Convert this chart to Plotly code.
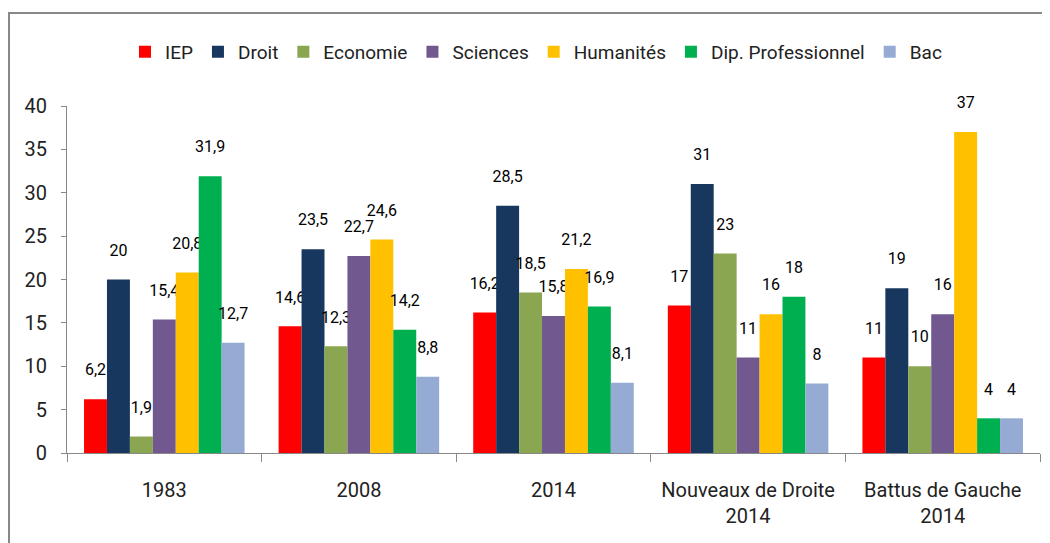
import plotly.graph_objects as go

CATEGORIES = ["1983", "2008", "2014", "Nouveaux de Droite<br>2014", "Battus de Gauche<br>2014"]
SERIES = ["IEP", "Droit", "Economie", "Sciences", "Humanités", "Dip. Professionnel", "Bac"]
IEP = [6.2, 14.6, 16.2, 17, 11]
DROIT = [20, 23.5, 28.5, 31, 19]
ECONOMIE = [1.9, 12.3, 18.5, 23, 10]
SCIENCES = [15.4, 22.7, 15.8, 11, 16]
HUMANITES = [20.8, 24.6, 21.2, 16, 37]
DIP_PRO = [31.9, 14.2, 16.9, 18, 4]
BAC = [12.7, 8.8, 8.1, 8, 4]

COLORS = ["#FF0000", "#17375E", "#8BA650", "#71588F", "#FFC000", "#00B050", "#95ABD3"]
FONT = "Roboto, sans-serif"


def fmt(v):
	# comma decimals, plus a tiny blank line to lift the label off the bar
	s = f"{v:g}".replace(".", ",")
	return s + "<br><span style='font-size:2px'> </span>"


fig = go.Figure()
for name, values, color in zip(SERIES, [IEP, DROIT, ECONOMIE, SCIENCES, HUMANITES, DIP_PRO, BAC], COLORS):
	fig.add_trace(
		go.Bar(
			x=CATEGORIES,
			y=values,
			name=name,
			marker={"color": color, "line": {"width": 0}},
			text=[fmt(v) for v in values],
			textposition="outside",
			constraintext="none",
			cliponaxis=False,
			textfont={"family": FONT, "size": 16, "color": "#000000"},
		)
	)

fig.update_layout(
	width=1042,
	height=535,
	barmode="group",
	bargap=0.175,
	bargroupgap=0,
	paper_bgcolor="white",
	plot_bgcolor="white",
	margin={"l": 59, "r": 10, "t": 98, "b": 90},
	font={"family": FONT, "size": 19, "color": "#222222"},
	legend={
		"orientation": "h",
		"x": 0.482,
		"xanchor": "center",
		"y": 1.156,
		"yanchor": "middle",
		"font": {"size": 19},
		"itemwidth": 30,
		"traceorder": "normal",
	},
	shapes=[
		{
			"type": "rect",
			"xref": "paper",
			"yref": "paper",
			"x0": -0.0596,
			"x1": 1.05,
			"y0": -0.4,
			"y1": 1.268,
			"line": {"color": "#888888", "width": 2},
		}
	],
)
fig.update_yaxes(
	range=[0, 40],
	dtick=5,
	showgrid=False,
	zeroline=False,
	showline=True,
	linecolor="#888888",
	linewidth=1,
	ticks="outside",
	ticklen=5,
	tickcolor="#888888",
	ticklabelstandoff=10,
	automargin=False,
	tickfont={"size": 20},
)
fig.update_xaxes(
	showgrid=False,
	showline=True,
	linecolor="#888888",
	linewidth=1,
	ticks="outside",
	tickson="boundaries",
	ticklen=8,
	tickcolor="#888888",
	tickangle=0,
	ticklabelstandoff=19,
	automargin=False,
	tickfont={"size": 20},
)

fig.write_html("out.html")
